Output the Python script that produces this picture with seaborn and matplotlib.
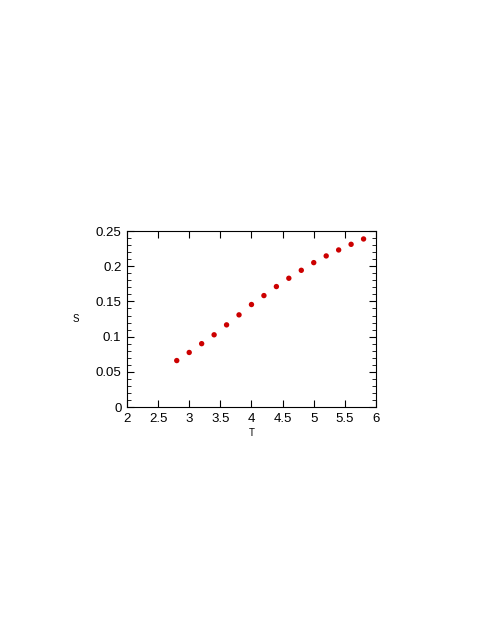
import numpy as np
import pandas as pd
import matplotlib

matplotlib.use('Agg')

import matplotlib.pyplot as plt
import seaborn as sns
from matplotlib.ticker import MultipleLocator

#Data
T = [2.8, 3.0, 3.2, 3.4, 3.6, 3.8, 4.0, 4.2, 4.4, 4.6, 4.8, 5.0, 5.2, 5.4, 5.6, 5.8]
S = [0.066, 0.0775, 0.090, 0.1026, 0.1167, 0.1309, 0.1456, 0.1583, 0.1711, 0.1829,
     0.1942, 0.2051, 0.2146, 0.2231, 0.2311, 0.2387]
xticks = [2, 2.5, 3, 3.5, 4, 4.5, 5, 5.5, 6]
xlabels = ['2', '2.5', '3', '3.5', '4', '4.5', '5', '5.5', '6']
yticks = [0, 0.05, 0.1, 0.15, 0.2, 0.25]
ylabels = ['0', '0.05', '0.1', '0.15', '0.2', '0.25']
data = pd.DataFrame({'T': T, 'S': S})

sns.set_style('ticks')
plt.rcParams['font.family'] = ['Liberation Sans', 'DejaVu Sans']
plt.rcParams['text.color'] = 'black'
plt.rcParams['xtick.color'] = 'black'
plt.rcParams['ytick.color'] = 'black'
plt.rcParams['axes.labelcolor'] = 'black'

fig = plt.figure(figsize=(4.79, 6.2), dpi=100)
ax = fig.add_axes([0.265, 0.3435, 0.52, 0.2839])

sns.scatterplot(data=data, x='T', y='S', ax=ax, color='#cc0000', s=15,
                edgecolor='none', linewidth=0)

ax.set_xticks(xticks, xlabels)
ax.set_yticks(yticks, ylabels)
ax.yaxis.set_minor_locator(MultipleLocator(0.01))
ax.set_xlim(2, 6)
ax.set_ylim(0, 0.25)

ax.tick_params(axis='both', which='major', direction='in', length=5, width=0.8,
               top=True, right=True, labelsize=9.5, pad=4)
ax.tick_params(axis='y', which='minor', direction='in', length=3, width=0.6,
               left=True, right=True)
for sp in ax.spines.values():
    sp.set_linewidth(0.8)
    sp.set_color('black')

ax.set_xlabel('T', fontsize=7, labelpad=2.5)
ax.set_ylabel('S', fontsize=7, rotation=0, labelpad=14, va='center')

fig.savefig('out.png', dpi=100)
